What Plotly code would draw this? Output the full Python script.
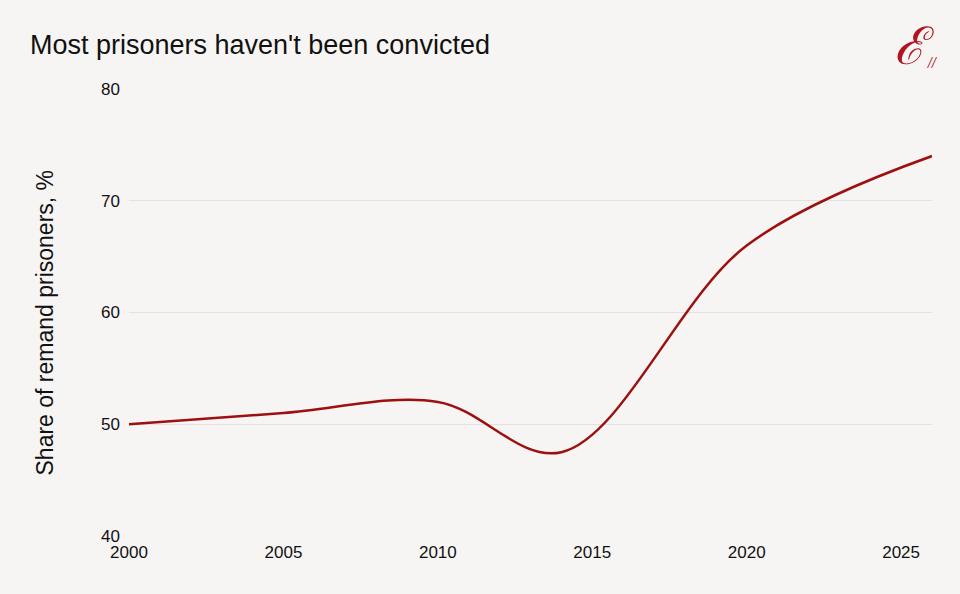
import plotly.graph_objects as go

years = [2000, 2005, 2010, 2014, 2020, 2026]
share = [50.0, 51.0, 52.0, 47.5, 66.0, 74.0]
x_ticks = [2000, 2005, 2010, 2015, 2020, 2025]
y_ticks = [40, 50, 60, 70, 80]

title_text = "Most prisoners haven't been convicted"
y_title = "Share of remand prisoners, %"

bg = "#f7f5f3"
line_color = "#9c1010"
font_family = "Liberation Sans, Arial, sans-serif"

fig = go.Figure()
fig.add_trace(go.Scatter(
    x=years, y=share, mode="lines",
    line=dict(color=line_color, width=2.5, shape="spline", smoothing=1.0),
    hoverinfo="skip", showlegend=False,
))

fig.update_layout(
    width=960, height=594,
    paper_bgcolor=bg, plot_bgcolor=bg,
    margin=dict(l=129, r=28, t=89, b=58),
    font=dict(family=font_family, color="#111111", size=17),
    xaxis=dict(
        range=[2000, 2026], tickvals=x_ticks, ticktext=[str(t) for t in x_ticks],
        showgrid=False, zeroline=False, showline=False, ticks="",
        tickfont=dict(size=17), ticklabelstandoff=4,
    ),
    yaxis=dict(
        range=[40, 80], tickvals=y_ticks, ticktext=[str(t) for t in y_ticks],
        showgrid=True, gridcolor="#e4e2e0", gridwidth=1, zeroline=False,
        showline=False, ticks="", tickfont=dict(size=17), ticklabelstandoff=8,
    ),
    annotations=[
        dict(text=title_text, xref="paper", yref="paper", x=0, y=1,
             xshift=-129 + 28, yshift=44, xanchor="left", yanchor="middle",
             showarrow=False, font=dict(size=27, color="#111111", family=font_family)),
        dict(text=y_title, xref="paper", yref="paper", x=0, y=0.5,
             xshift=-85, yshift=-10, textangle=-90, xanchor="center", yanchor="middle",
             showarrow=False, font=dict(size=23, color="#111111", family=font_family)),
        dict(text="<i>ℰ</i>", xref="paper", yref="paper", x=1, y=1,
             xshift=-18, yshift=43, xanchor="center", yanchor="middle",
             showarrow=False, font=dict(size=52, color="#b3141f", family="DejaVu Serif, serif")),
        dict(text="<i>//</i>", xref="paper", yref="paper", x=1, y=1,
             xshift=0, yshift=26, xanchor="center", yanchor="middle",
             showarrow=False, font=dict(size=12, color="#b3141f", family="DejaVu Serif, serif")),
    ],
)

fig.write_html("out.html")
